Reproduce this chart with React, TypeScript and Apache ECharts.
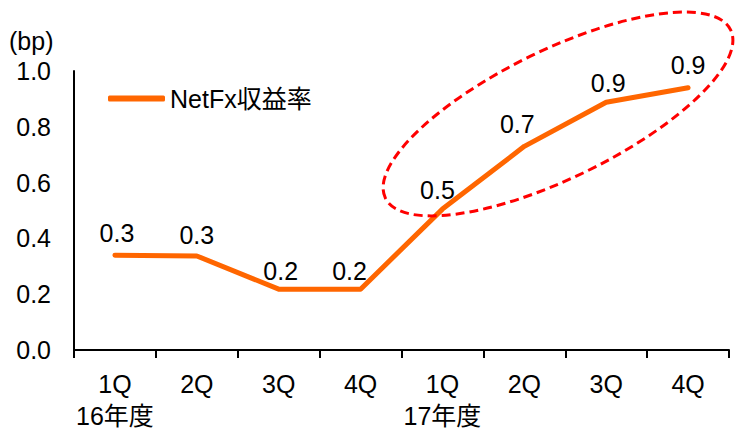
import React, { useEffect, useRef } from "react";
import * as echarts from "echarts";

const quarters = ["1Q", "2Q", "3Q", "4Q", "1Q", "2Q", "3Q", "4Q"];
const fiscalYears = ["16年度", "", "", "", "17年度", "", "", ""];
const netFxYield = [0.34, 0.337, 0.218, 0.218, 0.505, 0.73, 0.888, 0.94];
const yTicks = { min: 0, max: 1.0, interval: 0.2 };
const seriesName = "NetFx収益率";
const unitLabel = "(bp)";

const FONT = "'Liberation Sans', Arial, 'Noto Sans CJK JP', sans-serif";
const labelOffsets = [[2, 0], [0, 2], [2, 4], [-11, 4], [-5, 3], [-7, 0], [2, 3], [0, 0]];

export default function App() {
  const ref = useRef<HTMLDivElement>(null);
  useEffect(() => {
    if (!ref.current) return;
    const chart = echarts.init(ref.current, null, { renderer: "svg" });
    const categories = quarters.map((q, i) => (fiscalYears[i] ? `${q}\n${fiscalYears[i]}` : q));
    chart.setOption({
      animation: false,
      backgroundColor: "#ffffff",
      grid: { left: 74, right: 6, top: 71, bottom: 76, containLabel: false },
      legend: {
        show: true,
        left: 103,
        top: 81,
        icon: "roundRect",
        itemWidth: 57,
        itemHeight: 6,
        itemGap: 10,
        textStyle: { fontSize: 25, color: "#000", fontFamily: FONT },
        data: [{ name: seriesName, itemStyle: { color: "#FF6600" } }],
      },
      xAxis: {
        type: "category",
        data: categories,
        boundaryGap: true,
        axisLine: { show: true, lineStyle: { color: "#000", width: 2 } },
        axisTick: { show: true, length: 8, inside: false, lineStyle: { color: "#000", width: 2 } },
        axisLabel: {
          interval: 0,
          margin: 18,
          fontSize: 25,
          lineHeight: 32,
          color: "#000",
          fontFamily: FONT,
        },
        splitLine: { show: false },
      },
      yAxis: {
        type: "value",
        min: yTicks.min,
        max: yTicks.max,
        interval: yTicks.interval,
        axisLine: { show: true, lineStyle: { color: "#000", width: 2 } },
        axisTick: { show: false },
        splitLine: { show: false },
        axisLabel: {
          margin: 23,
          fontSize: 25,
          color: "#000",
          fontFamily: FONT,
          formatter: (v: number) => v.toFixed(1),
        },
      },
      series: [
        {
          name: seriesName,
          type: "line",
          data: netFxYield.map((v, i) => ({
            value: v,
            label: { offset: labelOffsets[i] },
          })),
          symbol: "circle",
          symbolSize: 0,
          showSymbol: true,
          lineStyle: { color: "#FF6600", width: 5, cap: "round", join: "round" },
          itemStyle: { color: "#FF6600" },
          label: {
            show: true,
            position: "top",
            distance: 10,
            fontSize: 25,
            color: "#000",
            fontFamily: FONT,
            formatter: (p: any) => Number(p.value).toFixed(1),
          },
        },
      ],
      graphic: [
        {
          type: "text",
          left: 9,
          top: 28,
          style: { text: unitLabel, fill: "#000", font: `25px ${FONT}` },
        },
        {
          type: "ellipse",
          x: 558,
          y: 114,
          rotation: (26 * Math.PI) / 180,
          shape: { cx: 0, cy: 0, rx: 192, ry: 64 },
          style: { fill: "none", stroke: "#FF0000", lineWidth: 3, lineDash: [9, 5] },
          z: 10,
        },
      ],
    });
    return () => chart.dispose();
  }, []);
  return (
    <div
      ref={ref}
      style={{ position: "absolute", left: 0, top: 0, width: 735, height: 432 }}
    />
  );
}
